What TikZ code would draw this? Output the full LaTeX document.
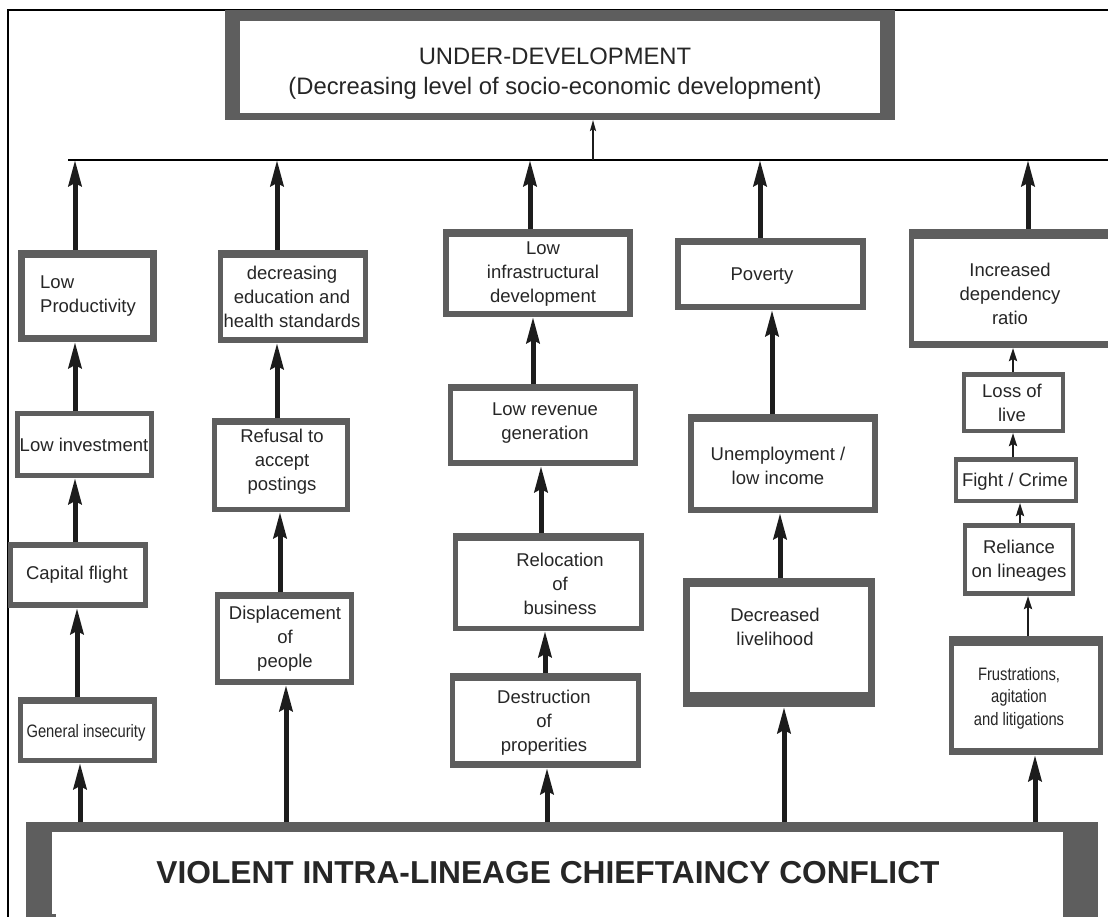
\documentclass[tikz,border=0pt]{standalone}
\usepackage{fontspec}
\setmainfont{Liberation Sans}
\newfontfamily\condfont{Liberation Sans}[FakeStretch=0.82]
\usetikzlibrary{arrows.meta}
\definecolor{bordc}{HTML}{5E5E5E}
\definecolor{txtc}{HTML}{262626}
\definecolor{arrc}{HTML}{1C1C1C}
\tikzset{
  txt/.style={align=center, text=txtc, font=\fontsize{18.5}{24}\selectfont, inner sep=0},
  ctxt/.style={align=center, text=txtc, font=\condfont\fontsize{18}{22.5}\selectfont, inner sep=0},
  bigarr/.style={draw=arrc, line width=5pt, -{Stealth[length=26pt,width=13pt,inset=3pt]}},
  smallarr/.style={draw=arrc, line width=2.5pt, -{Stealth[length=13pt,width=8pt,inset=2pt]}},
  tinyarr/.style={draw=arrc, line width=1.8pt, -{Stealth[length=11pt,width=6pt,inset=2pt]}},
  boxnode/.style={rectangle, inner sep=0, outer sep=0, fill=bordc},
  frame/.style={draw=black, line width=1.5pt}
}
\newcommand\bx[8]{%
  \node[boxnode, minimum width={(#4-#2)*1pt}, minimum height={(#5-#3)*1pt}] (#1) at ({(#2+#4)/2},{(#3+#5)/2}) {};
  \fill[white] ({#2+#6},{#3+#7}) rectangle ({#4-#6},{#5-#8});
}
\begin{document}
\begin{tikzpicture}[x=1pt,y=-1pt]
\useasboundingbox (0,0) rectangle (1108,917);
\fill[white] (0,0) rectangle (1108,917);
\clip (0,0) rectangle (1108,917);
% outer frame
\draw[frame] (8,920) -- (8,10) -- (1112,10);

% top box
\bx{top}{225}{10}{895}{120}{15}{11}{7}
\node[txt, font=\fontsize{23.8}{30}\selectfont] (top-t) at (555,74) {UNDER-DEVELOPMENT\\(Decreasing level of socio-economic development)};

% horizontal collector line
\coordinate (hl) at (68,160);
\coordinate (hr) at (1112,160);
\draw[draw=black, line width=2pt] (hl) -- (hr);

% bottom box
\bx{bot}{26}{822}{1098}{930}{30}{10}{12}
\fill[bordc] (52,822) rectangle (1063,832);
\fill[bordc] (1063,822) rectangle (1098,930);
\fill[white] (52,832) rectangle (1063,914);
\node[txt, font=\bfseries\fontsize{31.7}{36}\selectfont] (bot-t) at (548,873) {VIOLENT INTRA-LINEAGE CHIEFTAINCY CONFLICT};

% column 1
\bx{lp}{18}{250}{157}{342}{7}{8}{7}
\node[txt, align=left, anchor=west] (lp-t) at (40,296) {Low\\Productivity};
\bx{li}{15}{411}{154}{478}{5}{5}{5}
\node[txt] (li-t) at (84,445) {Low investment};
\bx{cf}{8}{542}{148}{608}{5}{6}{6}
\node[txt] (cf-t) at (77,575) {Capital flight};
\bx{gi}{18}{697}{157}{763}{5}{7}{5}
\node[ctxt] (gi-t) at (86,733) {General insecurity};

% column 2
\bx{de}{218}{250}{368}{343}{5}{8}{6}
\node[txt] (de-t) at (292,297) {decreasing\\education and\\health standards};
\bx{ra}{212}{418}{350}{512}{5}{7}{5}
\node[txt] (ra-t) at (282,462) {Refusal to\\accept\\postings};
\bx{dp}{215}{592}{354}{685}{5}{7}{6}
\node[txt] (dp-t) at (285,639) {Displacement\\of\\people};

% column 3
\bx{lid}{443}{229}{633}{317}{6}{8}{6}
\node[txt] (lid-t) at (543,274) {Low\\infrastructural\\development};
\bx{lrg}{448}{384}{638}{466}{5}{7}{6}
\node[txt] (lrg-t) at (545,423) {Low revenue\\generation};
\bx{rb}{453}{533}{644}{631}{5}{8}{5}
\node[txt] (rb-t) at (560,584) {Relocation\\of\\business};
\bx{dop}{450}{673}{641}{768}{5}{8}{7}
\node[txt] (dop-t) at (544,723) {Destruction\\of\\properities};

% column 4
\bx{pov}{675}{238}{866}{310}{6}{7}{6}
\node[txt] (pov-t) at (762,276) {Poverty};
\bx{ul}{688}{414}{878}{513}{6}{8}{6}
\node[txt] (ul-t) at (778,466) {Unemployment /\\low income};
\bx{dl}{683}{578}{875}{707}{7}{9}{15}
\node[txt] (dl-t) at (775,627) {Decreased\\livelihood};

% column 5
\bx{idr}{909}{229}{1118}{348}{5}{10}{7}
\node[txt] (idr-t) at (1010,294) {Increased\\dependency\\ratio};
\bx{lol}{962}{372}{1065}{433}{4}{5}{4}
\node[txt] (lol-t) at (1012,403) {Loss of\\live};
\bx{fc}{954}{457}{1078}{503}{4}{5}{4}
\node[txt] (fc-t) at (1015,482) {Fight / Crime};
\bx{rl}{963}{523}{1075}{596}{4}{5}{5}
\node[txt] (rl-t) at (1019,561) {Reliance\\on lineages};
\bx{fal}{949}{636}{1103}{755}{5}{10}{7}
\node[ctxt] (fal-t) at (1019,698) {Frustrations,\\agitation\\and litigations};

% arrow x positions
\coordinate (xm) at (593,0);
\coordinate (a1) at (75,0);   \coordinate (a2) at (77,0);   \coordinate (a3) at (80,0);
\coordinate (b1) at (277,0);  \coordinate (b2) at (280,0);  \coordinate (b3) at (286,0);
\coordinate (c1) at (530,0);  \coordinate (c2) at (533,0);  \coordinate (c3) at (541,0);
\coordinate (c4) at (545,0);  \coordinate (c5) at (547,0);
\coordinate (d1) at (760,0);  \coordinate (d2) at (772,0);  \coordinate (d3) at (780,0);
\coordinate (d4) at (784,0);
\coordinate (e1) at (1028,0); \coordinate (e2) at (1013,0); \coordinate (e3) at (1020,0);
\coordinate (e4) at (1028,0); \coordinate (e5) at (1035,0);

% arrow to top box
\draw[tinyarr] (hl -| xm) -- (top.south -| xm);

% column 1 arrows
\draw[bigarr] (lp.north -| a1) -- (hl -| a1);
\draw[bigarr] (li.north -| a1) -- (lp.south -| a1);
\draw[bigarr] (cf.north -| a1) -- (li.south -| a1);
\draw[bigarr] (gi.north -| a2) -- (cf.south -| a2);
\draw[bigarr] (bot.north -| a3) -- (gi.south -| a3);

% column 2 arrows
\draw[bigarr] (de.north -| b1) -- (hl -| b1);
\draw[bigarr] (ra.north -| b1) -- (de.south -| b1);
\draw[bigarr] (dp.north -| b2) -- (ra.south -| b2);
\draw[bigarr] (bot.north -| b3) -- (dp.south -| b3);

% column 3 arrows
\draw[bigarr] (lid.north -| c1) -- (hl -| c1);
\draw[bigarr] (lrg.north -| c2) -- (lid.south -| c2);
\draw[bigarr] (rb.north -| c3) -- (lrg.south -| c3);
\draw[bigarr] (dop.north -| c4) -- (rb.south -| c4);
\draw[bigarr] (bot.north -| c5) -- (dop.south -| c5);

% column 4 arrows
\draw[bigarr] (pov.north -| d1) -- (hl -| d1);
\draw[bigarr] (ul.north -| d2) -- (pov.south -| d2);
\draw[bigarr] (dl.north -| d3) -- (ul.south -| d3);
\draw[bigarr] (bot.north -| d4) -- (dl.south -| d4);

% column 5 arrows
\draw[bigarr] (idr.north -| e1) -- (hl -| e1);
\draw[smallarr] (lol.north -| e2) -- (idr.south -| e2);
\draw[smallarr] (fc.north -| e2) -- (lol.south -| e2);
\draw[smallarr] (rl.north -| e3) -- (fc.south -| e3);
\draw[smallarr] (fal.north -| e4) -- (rl.south -| e4);
\draw[bigarr] (bot.north -| e5) -- (fal.south -| e5);
\end{tikzpicture}
\end{document}
